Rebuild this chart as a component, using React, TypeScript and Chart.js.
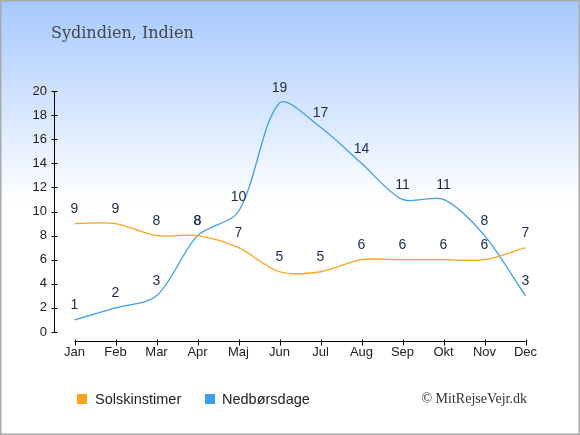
import { useEffect, useRef } from 'react';
import { Chart, registerables } from 'chart.js';

Chart.register(...registerables);

const months = ['Jan', 'Feb', 'Mar', 'Apr', 'Maj', 'Jun', 'Jul', 'Aug', 'Sep', 'Okt', 'Nov', 'Dec'];
const sunHours = [9, 9, 8, 8, 7, 5, 5, 6, 6, 6, 6, 7];
const rainDays = [1, 2, 3, 8, 10, 19, 17, 14, 11, 11, 8, 3];
const yTicks = [0, 2, 4, 6, 8, 10, 12, 14, 16, 18, 20];

const title = 'Sydindien, Indien';
const credit = '© MitRejseVejr.dk';

const SUN_COLOR = '#ffa31a';
const RAIN_COLOR = '#3d9ff0';

// background gradient + frame
const backgroundPlugin = {
  id: 'background',
  beforeDraw(chart: any) {
    const { ctx, width, height } = chart;
    ctx.save();
    const g = ctx.createLinearGradient(0, 0, 0, height);
    g.addColorStop(0, '#a6c8ff');
    g.addColorStop(0.47, '#ffffff');
    g.addColorStop(1, '#ffffff');
    ctx.fillStyle = g;
    ctx.fillRect(0, 0, width, height);
    ctx.strokeStyle = '#aaaaaa';
    ctx.lineWidth = 1.5;
    ctx.strokeRect(0.75, 0.75, width - 1.5, height - 1.5);
    ctx.restore();
  },
};

// detached axis lines with crossing ticks
const axesPlugin = {
  id: 'axes',
  beforeDatasetsDraw(chart: any) {
    const { ctx } = chart;
    const xs = chart.scales.x;
    const ys = chart.scales.y;
    const ax = Math.round(chart.chartArea.left) + 0.5;
    const y0 = ys.getPixelForValue(0);
    const yTop = ys.getPixelForValue(20);
    const bx = Math.round(y0 + 9) + 0.5;

    ctx.save();
    ctx.strokeStyle = '#000';
    ctx.lineWidth = 1;
    ctx.beginPath();
    ctx.moveTo(ax, yTop);
    ctx.lineTo(ax, y0);
    yTicks.forEach((v) => {
      const py = Math.round(ys.getPixelForValue(v)) + 0.5;
      ctx.moveTo(ax - 3, py);
      ctx.lineTo(ax + 3, py);
    });
    const first = xs.getPixelForValue(0);
    const last = xs.getPixelForValue(months.length - 1);
    ctx.moveTo(first, bx);
    ctx.lineTo(last, bx);
    months.forEach((_, i) => {
      const px = Math.round(xs.getPixelForValue(i)) + 0.5;
      ctx.moveTo(px, bx - 2);
      ctx.lineTo(px, bx + 4);
    });
    ctx.stroke();
    ctx.restore();
  },
};

// value labels above each point
const valueLabelsPlugin = {
  id: 'valueLabels',
  afterDatasetsDraw(chart: any) {
    const { ctx } = chart;
    ctx.save();
    ctx.font = '14px "Liberation Sans", Arial, sans-serif';
    ctx.fillStyle = '#1c2b4b';
    ctx.textAlign = 'center';
    ctx.textBaseline = 'middle';
    chart.data.datasets.forEach((ds: any, di: number) => {
      const meta = chart.getDatasetMeta(di);
      meta.data.forEach((pt: any, i: number) => {
        ctx.fillText(String(ds.data[i]), pt.x, pt.y - 14.5);
      });
    });
    ctx.restore();
  },
};

// title, legend and credit
const textPlugin = {
  id: 'texts',
  afterDraw(chart: any) {
    const { ctx } = chart;
    ctx.save();
    ctx.textBaseline = 'alphabetic';

    ctx.font = '16px "DejaVu Serif", serif';
    ctx.fillStyle = '#474747';
    ctx.textAlign = 'left';
    ctx.fillText(title, 51, 38);

    const items = [
      { x: 77, tx: 95 },
      { x: 205, tx: 222 },
    ];
    ctx.font = '14.5px "Liberation Sans", Arial, sans-serif';
    chart.data.datasets.forEach((ds: any, i: number) => {
      const it = items[i];
      ctx.fillStyle = ds.borderColor;
      ctx.fillRect(it.x, 394, 10, 10);
      ctx.fillStyle = '#222';
      ctx.fillText(ds.label, it.tx, 403.5);
    });

    ctx.font = '14px "Liberation Serif", serif';
    ctx.fillStyle = '#333';
    ctx.textAlign = 'right';
    ctx.fillText(credit, 527, 403);
    ctx.restore();
  },
};

export default function App() {
  const canvasRef = useRef<HTMLCanvasElement | null>(null);
  const chartRef = useRef<Chart | null>(null);

  useEffect(() => {
    if (!canvasRef.current) return;
    if (chartRef.current) {
      chartRef.current.destroy();
      chartRef.current = null;
    }

    const tickFont = { family: '"Liberation Sans", Arial, sans-serif', size: 13 };

    chartRef.current = new Chart(canvasRef.current, {
      type: 'line',
      data: {
        labels: months,
        datasets: [
          {
            label: 'Solskinstimer',
            data: sunHours,
            borderColor: SUN_COLOR,
            backgroundColor: SUN_COLOR,
            borderWidth: 1.3,
            pointRadius: 0,
            tension: 0.3,
            fill: false,
          },
          {
            label: 'Nedbørsdage',
            data: rainDays,
            borderColor: RAIN_COLOR,
            backgroundColor: RAIN_COLOR,
            borderWidth: 1.3,
            pointRadius: 0,
            tension: 0.3,
            fill: false,
          },
        ],
      },
      options: {
        responsive: false,
        animation: false,
        layout: { padding: { top: 91, right: 34, bottom: 0, left: 0 } },
        plugins: {
          legend: { display: false },
          tooltip: { enabled: false },
          title: { display: false },
        },
        scales: {
          x: {
            offset: true,
            grid: { display: false, drawTicks: false },
            border: { display: false },
            ticks: { font: tickFont, color: '#222', padding: 13, maxRotation: 0, autoSkip: false },
            afterFit: (s: any) => {
              s.height = 103;
            },
          },
          y: {
            min: 0,
            max: 20,
            grid: { display: false, drawTicks: false },
            border: { display: false },
            ticks: { stepSize: 2, font: tickFont, color: '#222', padding: 7 },
            afterFit: (s: any) => {
              s.width = 54;
            },
          },
        },
      },
      plugins: [backgroundPlugin, axesPlugin, valueLabelsPlugin, textPlugin],
    });

    return () => {
      if (chartRef.current) {
        chartRef.current.destroy();
        chartRef.current = null;
      }
    };
  }, []);

  return (
    <div style={{ position: 'absolute', left: 0, top: 0 }}>
      <canvas ref={canvasRef} width={580} height={435} />
    </div>
  );
}
